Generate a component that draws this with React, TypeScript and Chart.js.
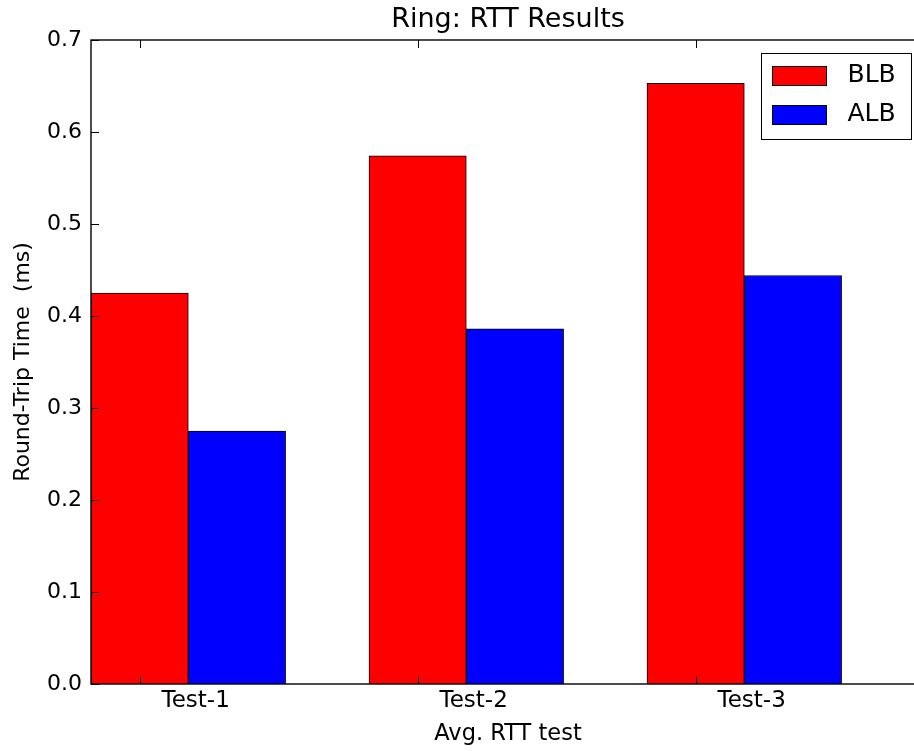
import React, { useEffect, useRef } from 'react';
import { Chart, registerables } from 'chart.js';

Chart.register(...registerables);

const categories = ['Test-1', 'Test-2', 'Test-3'];
const seriesNames = ['BLB', 'ALB'];
const blbValues = [0.425, 0.574, 0.653];
const albValues = [0.275, 0.386, 0.444];
const yTickValues = [0, 0.1, 0.2, 0.3, 0.4, 0.5, 0.6, 0.7];
const seriesColors = ['#ff0000', '#0000ff'];

const BAR_WIDTH = 0.35;
const FONT = 'DejaVu Sans';

const frameLegendPlugin = {
  id: 'frameLegend',
  afterDraw(chart: any) {
    const { ctx, chartArea: ca, scales } = chart;
    ctx.save();
    ctx.strokeStyle = '#000';
    ctx.lineWidth = 1;
    const line = (x1: number, y1: number, x2: number, y2: number) => {
      ctx.beginPath();
      ctx.moveTo(x1, y1);
      ctx.lineTo(x2, y2);
      ctx.stroke();
    };
    const tl = 8;
    scales.y.ticks.forEach((t: any) => {
      const y = Math.round(scales.y.getPixelForValue(t.value)) + 0.5;
      line(ca.left, y, ca.left + tl, y);
      line(ca.right - tl, y, ca.right, y);
    });
    scales.x.ticks.forEach((t: any) => {
      const x = Math.round(scales.x.getPixelForValue(t.value)) + 0.5;
      line(x, ca.bottom, x, ca.bottom - tl);
      line(x, ca.top, x, ca.top + tl);
    });
    ctx.lineWidth = 1.4;
    ctx.strokeRect(ca.left, ca.top, ca.right - ca.left, ca.bottom - ca.top);

    // legend
    const boxW = 150;
    const boxH = 86;
    const bx = Math.round(ca.right - 14 - boxW) + 0.5;
    const by = Math.round(ca.top + 13) + 0.5;
    ctx.fillStyle = '#fff';
    ctx.fillRect(bx, by, boxW, boxH);
    ctx.lineWidth = 1;
    ctx.strokeRect(bx, by, boxW, boxH);
    ctx.font = `25px "${FONT}"`;
    ctx.textBaseline = 'middle';
    ctx.textAlign = 'left';
    chart.data.datasets.forEach((ds: any, i: number) => {
      const cy = by + 22 + i * 38.8;
      ctx.fillStyle = ds.backgroundColor;
      ctx.fillRect(bx + 11, Math.round(cy - 9.5), 54, 19);
      ctx.strokeStyle = '#000';
      ctx.strokeRect(bx + 11, Math.round(cy - 9.5) + 0.5, 54, 19);
      ctx.fillStyle = '#000';
      ctx.fillText(ds.label, bx + 86, cy);
    });
    ctx.restore();
  },
};

export default function App() {
  const ref = useRef<HTMLCanvasElement>(null);
  useEffect(() => {
    if (!ref.current) return;
    const datasets = [blbValues, albValues].map((vals, s) => ({
      label: seriesNames[s],
      data: vals.map((v, i) => ({ x: i + s * BAR_WIDTH, y: v })),
      backgroundColor: seriesColors[s],
      borderColor: '#000',
      borderWidth: 1,
      grouped: false,
      categoryPercentage: 1,
      barPercentage: 1,
    }));
    const chart = new Chart(ref.current, {
      type: 'bar',
      data: { datasets } as any,
      plugins: [frameLegendPlugin],
      options: {
        responsive: false,
        animation: false,
        layout: { padding: 0 },
        plugins: {
          legend: { display: false },
          tooltip: { enabled: false },
          title: {
            display: true,
            fullSize: false,
            text: 'Ring: RTT Results',
            color: '#000',
            font: { family: FONT, size: 27, weight: 'normal' as any, lineHeight: 1.2 },
            padding: { top: 4, bottom: 3.6 },
          },
        },
        scales: {
          x: {
            type: 'linear',
            offset: false,
            min: -BAR_WIDTH / 2,
            max: 3 - BAR_WIDTH / 2,
            afterBuildTicks: (scale: any) => {
              scale.ticks = categories.map((_, i) => ({ value: i }));
            },
            afterFit: (scale: any) => {
              scale.height = 67;
            },
            grid: { display: false, drawTicks: false, offset: false },
            border: { display: false },
            ticks: {
              color: '#000',
              font: { family: FONT, size: 23, lineHeight: 1.2 },
              padding: 3,
              labelOffset: 56,
              maxRotation: 0,
              autoSkip: false,
              callback: (_v: any, i: number) => categories[i],
            },
            title: {
              display: true,
              text: 'Avg. RTT test',
              color: '#000',
              font: { family: FONT, size: 22.5, lineHeight: 1.2 },
              padding: { top: 0, bottom: 3 },
            },
          },
          y: {
            type: 'linear',
            min: 0,
            max: 0.7,
            afterBuildTicks: (scale: any) => {
              scale.ticks = yTickValues.map((v) => ({ value: v }));
            },
            afterFit: (scale: any) => {
              scale.width = 91;
            },
            grid: { display: false, drawTicks: false },
            border: { display: false },
            ticks: {
              color: '#000',
              font: { family: FONT, size: 22, lineHeight: 1.2 },
              padding: 9,
              callback: (v: any) => Number(v).toFixed(1),
            },
            title: {
              display: true,
              text: 'Round-Trip Time  (ms)',
              color: '#000',
              font: { family: FONT, size: 22, lineHeight: 1.2 },
              padding: { top: 10, bottom: 0 },
            },
          },
        },
      } as any,
    });
    return () => chart.destroy();
  }, []);
  return (
    <div style={{ position: 'fixed', left: 0, top: 0, width: 914, height: 751, overflow: 'hidden', background: '#fff' }}>
      <canvas ref={ref} width={925} height={751} style={{ display: 'block' }} />
    </div>
  );
}
